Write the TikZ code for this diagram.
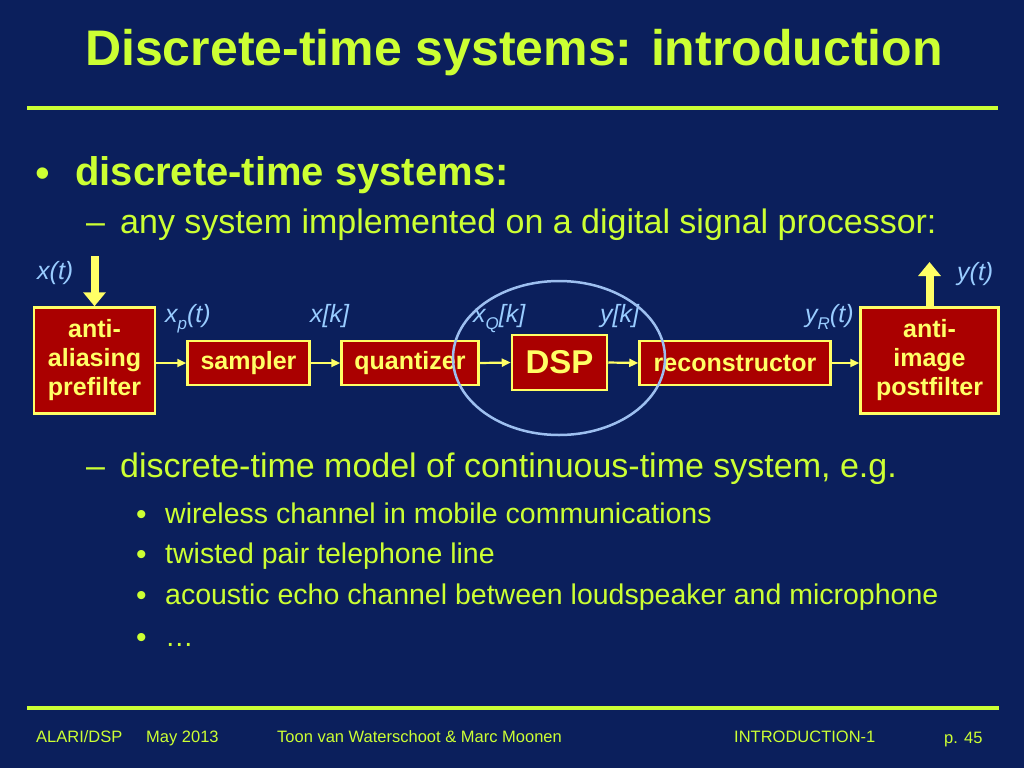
\documentclass[tikz,border=0pt]{standalone}
\usepackage{fontspec}
\setmainfont{Liberation Sans}
\usetikzlibrary{arrows.meta}
\definecolor{bg}{HTML}{0B1F5C}
\definecolor{tx}{HTML}{CCFF33}
\definecolor{bx}{HTML}{AA0000}
\definecolor{by}{HTML}{FFFF66}
\definecolor{lb}{HTML}{99CCFF}
\definecolor{el}{HTML}{9DBFF0}
\newcommand\lsub[1]{\raisebox{-0.28em}{\fontsize{17pt}{17pt}\selectfont #1}}
\begin{document}
\begin{tikzpicture}[x=1pt,y=-1pt,
  txt/.style={inner sep=0pt, anchor=base west, text=tx},
  lbl/.style={inner sep=0pt, anchor=base west, text=lb, font=\itshape\fontsize{25pt}{30pt}\selectfont},
  blk/.style={draw=by, line width=2.5pt, fill=bx, text=by, inner sep=0pt, align=center,
              font=\bfseries\fontsize{25pt}{29pt}\selectfont},
  arr/.style={draw=by, line width=2.2pt, -{Triangle[width=8pt,length=9pt]}},
  bigarr/.style={draw=by, line width=8pt, -{Triangle[width=22pt,length=14pt]}},
  rule/.style={draw=tx, line width=4pt},
  foot/.style={inner sep=0pt, anchor=base west, text=tx, font=\fontsize{16.5pt}{20pt}\selectfont}]
\fill[bg] (0,0) rectangle (1024,768);
\useasboundingbox (0,0) rectangle (1024,768);

% title
\node[inner sep=0pt, anchor=base, text=tx, font=\bfseries\fontsize{50pt}{60pt}\selectfont] (title) at (514,65) {Discrete-time systems: introduction};
\draw[rule] (27,108) -- (998,108);

% bullets
\node[txt, font=\fontsize{42pt}{46pt}\selectfont] (b1) at (35,187) {•};
\node[txt, font=\bfseries\fontsize{40pt}{48pt}\selectfont] (t1) at (75,185) {discrete-time systems:};
\node[txt, font=\fontsize{34pt}{40pt}\selectfont] (d1) at (86,233) {–};
\node[txt, font=\fontsize{34pt}{40pt}\selectfont] (t2) at (120,233) {any system implemented on a digital signal processor:};

% blocks
\node[blk, minimum width=121pt, minimum height=106pt] (aa) at (94.5,360.5) {anti-\\aliasing\\prefilter};
\node[blk, minimum width=122pt, minimum height=44pt] (smp) at (248.5,363) {sampler};
\node[blk, minimum width=137pt, minimum height=44pt] (qnt) at (410,363) {quantizer};
\node[blk, minimum width=95pt, minimum height=55pt, font=\bfseries\fontsize{33pt}{40pt}\selectfont] (dsp) at (559.5,362.5) {DSP};
\node[blk, minimum width=191pt, minimum height=44pt] (rec) at (735,363) {reconstructor};
\node[blk, minimum width=138pt, minimum height=106pt] (ai) at (929.5,360.5) {anti-\\image\\postfilter};

% connectors
\draw[arr] (aa.east |- smp.west) -- (smp.west);
\draw[arr] (smp.east) -- (qnt.west);
\draw[arr] (qnt.east) -- (dsp.west);
\draw[arr] (dsp.east) -- (rec.west);
\draw[arr] (rec.east) -- (ai.west |- rec.east);
\coordinate (xin) at (94.5,256);
\coordinate (yout) at (929.5,262);
\draw[bigarr] (xin) -- (aa.north);
\draw[bigarr] (ai.north) -- (yout);

% signal labels
\node[lbl] (lxt) at (37,279) {x(t)};
\node[lbl] (lyt) at (957,280) {y(t)};
\node[lbl] (lxp) at (165,322) {x\lsub{p}(t)};
\node[lbl] (lxk) at (310,322) {x[k]};
\node[lbl] (lxq) at (473,322) {x\lsub{Q}[k]};
\node[lbl] (lyk) at (600,322) {y[k]};
\node[lbl] (lyr) at (805,322) {y\lsub{R}(t)};

% ellipse
\draw[el, line width=2.5pt] (559,358) ellipse [x radius=106pt, y radius=77pt];

% second dash
\node[txt, font=\fontsize{34pt}{40pt}\selectfont] (d2) at (86,477) {–};
\node[txt, font=\fontsize{34pt}{40pt}\selectfont] (t3) at (120,477) {discrete-time model of continuous-time system, e.g.};

% sub bullets
\foreach \y/\t [count=\i] in {523/wireless channel in mobile communications,
                   563/twisted pair telephone line,
                   604/acoustic echo channel between loudspeaker and microphone,
                   646/…}{
  \node[txt, font=\fontsize{30pt}{34pt}\selectfont] (sb\i) at (136,\y+1) {•};
  \node[txt, font=\fontsize{28.5pt}{34pt}\selectfont] (st\i) at (165,\y) {\t};
}

% footer
\draw[rule] (27,708) -- (999,708);
\node[foot] (f1) at (36,742) {ALARI/DSP};
\node[foot] (f2) at (146,742) {May 2013};
\node[foot] (f3) at (277,742) {Toon van Waterschoot \& Marc Moonen};
\node[foot] (f4) at (734,742) {INTRODUCTION-1};
\node[foot] (f5) at (944,743) {p. 45};
\end{tikzpicture}
\end{document}
